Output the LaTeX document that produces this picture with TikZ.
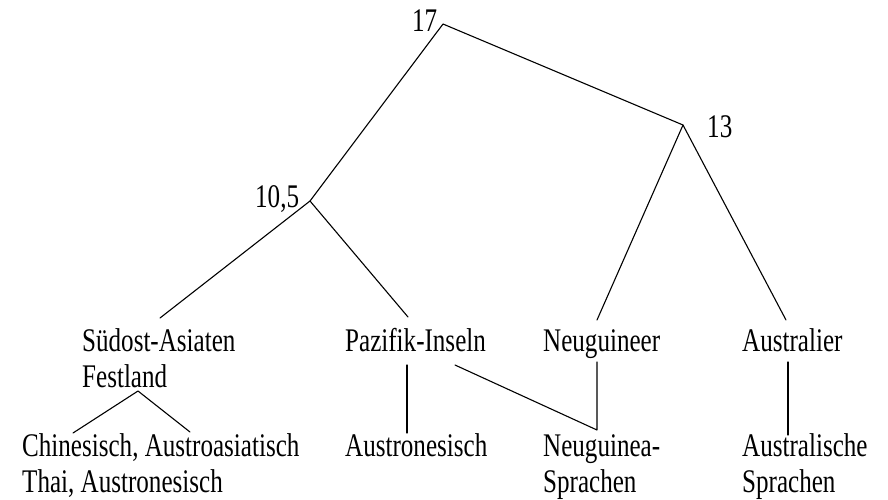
\documentclass[tikz,border=0pt]{standalone}
\usepackage{fontspec}
\setmainfont{Liberation Serif}[FakeStretch=0.76]
\begin{document}
\begin{tikzpicture}[x=1pt,y=-1pt,
  lbl/.style={inner sep=0pt,anchor=base west,align=left,
    font=\fontsize{33}{36}\selectfont},
  edge/.style={line width=1.1pt,line cap=round,line join=round}]
\useasboundingbox (0,0) rectangle (888,499);

% branching points of the tree
\coordinate (n17) at (443,24);
\coordinate (n13) at (683,125);
\coordinate (n105) at (310,201);

% values at the branching points
\node[lbl] (l17) at (412,31) {17};
\node[lbl] (l13) at (707,137) {13};
\node[lbl] (l105) at (255,207) {10,5};

% populations (two-line labels are placed by their last baseline)
\node[lbl] (sud) at (82,387) {Südost-Asiaten\\Festland};
\node[lbl] (paz) at (345,351) {Pazifik-Inseln};
\node[lbl] (neu) at (543,351) {Neuguineer};
\node[lbl] (aus) at (742,351) {Australier};

% language groups
\node[lbl] (chin) at (22,492) {Chinesisch, Austroasiatisch\\Thai, Austronesisch};
\node[lbl] (aun) at (345,456) {Austronesisch};
\node[lbl] (ngs) at (543,492) {Neuguinea-\\Sprachen};
\node[lbl] (als) at (742,492) {Australische\\Sprachen};

% connector ends near the labels
\coordinate (sudT) at (160,318);
\coordinate (pazT) at (408,317);
\coordinate (neuT) at (597,320);
\coordinate (ausT) at (786,320);
\coordinate (sudB) at (138,391);
\coordinate (chinL) at (73,433);
\coordinate (chinR) at (190,432);
\coordinate (pazB) at (407,365);
\coordinate (aunT) at (407,433);
\coordinate (pazD) at (455,365);
\coordinate (neuB) at (597,362);
\coordinate (ngsT) at (597,430);
\coordinate (ausB) at (788,362);
\coordinate (alsT) at (788,435);

% tree edges
\draw[edge] (n105) -- (n17) -- (n13);
\draw[edge] (sudT) -- (n105) -- (pazT);
\draw[edge] (neuT) -- (n13) -- (ausT);

% links to the language groups
\draw[edge] (chinL) -- (sudB) -- (chinR);
\draw[edge] (pazB) -- (aunT);
\draw[edge] (pazD) -- (ngsT) -- (neuB);
\draw[edge] (ausB) -- (alsT);
\end{tikzpicture}
\end{document}
